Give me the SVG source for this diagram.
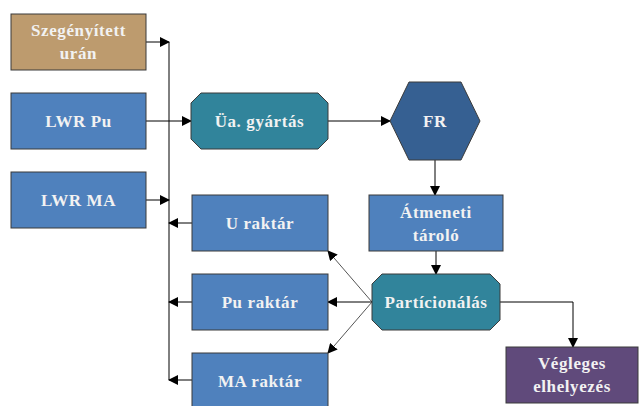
<svg xmlns="http://www.w3.org/2000/svg" width="639" height="406" viewBox="0 0 639 406">
<style>
.box{stroke:#3a3a3a;stroke-width:1}
.blue{fill:#4F81BD}
.teal{fill:#31849B}
.txt{font-family:"Liberation Serif","DejaVu Serif",serif;font-weight:bold;font-size:17px;letter-spacing:0.6px;fill:#F2F2F2;text-anchor:middle}
.c{stroke:#000;stroke-width:1;fill:none}
.g{stroke:#555;stroke-width:1;fill:none}
</style>
<defs>
<marker id="ah" markerWidth="10" markerHeight="10" refX="9" refY="5" orient="auto" markerUnits="userSpaceOnUse">
<path d="M0,0 L10,5 L0,10 Z" fill="#000"/>
</marker>
</defs>
<rect width="639" height="406" fill="#fff"/>
<g id="connectors">
<line class="c" x1="169" y1="42" x2="169" y2="380"/>
<line class="c" x1="146" y1="42" x2="169" y2="42" marker-end="url(#ah)"/>
<line class="c" x1="146" y1="121" x2="191" y2="121" marker-end="url(#ah)"/>
<line class="c" x1="146" y1="200" x2="169" y2="200" marker-end="url(#ah)"/>
<line class="c" x1="328" y1="121" x2="390" y2="121" marker-end="url(#ah)"/>
<line class="c" x1="435" y1="160" x2="435" y2="195" marker-end="url(#ah)"/>
<line class="c" x1="436" y1="251" x2="436" y2="274" marker-end="url(#ah)"/>
<polyline class="c" points="500,302 573,302 573,347" marker-end="url(#ah)"/>
<line class="c" x1="192" y1="223" x2="169" y2="223" marker-end="url(#ah)"/>
<line class="c" x1="192" y1="302" x2="169" y2="302" marker-end="url(#ah)"/>
<line class="c" x1="192" y1="380" x2="169" y2="380" marker-end="url(#ah)"/>
<line class="g" x1="372" y1="302" x2="328" y2="251" marker-end="url(#ah)"/>
<line class="c" x1="372" y1="302" x2="328" y2="302" marker-end="url(#ah)"/>
<line class="g" x1="372" y1="302" x2="328" y2="353" marker-end="url(#ah)"/>
</g>
<g id="szegenyitett">
<rect class="box" x="11" y="14" width="135" height="56" fill="#BD9B6E"/>
<text class="txt" x="78.5" y="36">Szegényített</text>
<text class="txt" x="78.5" y="59">urán</text>
</g>
<g id="lwr-pu">
<rect class="box blue" x="11" y="93" width="135" height="56"/>
<text class="txt" x="78.5" y="127">LWR Pu</text>
</g>
<g id="lwr-ma">
<rect class="box blue" x="11" y="172" width="135" height="56"/>
<text class="txt" x="78.5" y="206">LWR MA</text>
</g>
<g id="ua-gyartas">
<polygon class="box teal" points="201,93 318,93 328,103 328,139 318,149 201,149 191,139 191,103"/>
<text class="txt" x="259.5" y="127">Üa. gyártás</text>
</g>
<g id="fr">
<polygon class="box" fill="#366092" points="409,82 461,82 480,121 461,160 409,160 390,121"/>
<text class="txt" x="435" y="127">FR</text>
</g>
<g id="atmeneti">
<rect class="box blue" x="369" y="195" width="134" height="56"/>
<text class="txt" x="436" y="218">Átmeneti</text>
<text class="txt" x="436" y="241">tároló</text>
</g>
<g id="particionalas">
<polygon class="box teal" points="382,274 490,274 500,284 500,320 490,330 382,330 372,320 372,284"/>
<text class="txt" x="436" y="308">Partícionálás</text>
</g>
<g id="vegleges">
<rect class="box" fill="#604A7B" x="506" y="347" width="132" height="56"/>
<text class="txt" x="572" y="369">Végleges</text>
<text class="txt" x="572" y="392">elhelyezés</text>
</g>
<g id="u-raktar">
<rect class="box blue" x="192" y="195" width="136" height="56"/>
<text class="txt" x="260" y="229">U raktár</text>
</g>
<g id="pu-raktar">
<rect class="box blue" x="192" y="274" width="136" height="56"/>
<text class="txt" x="260" y="308">Pu raktár</text>
</g>
<g id="ma-raktar">
<rect class="box blue" x="192" y="353" width="136" height="56"/>
<text class="txt" x="260" y="387">MA raktár</text>
</g>
</svg>
